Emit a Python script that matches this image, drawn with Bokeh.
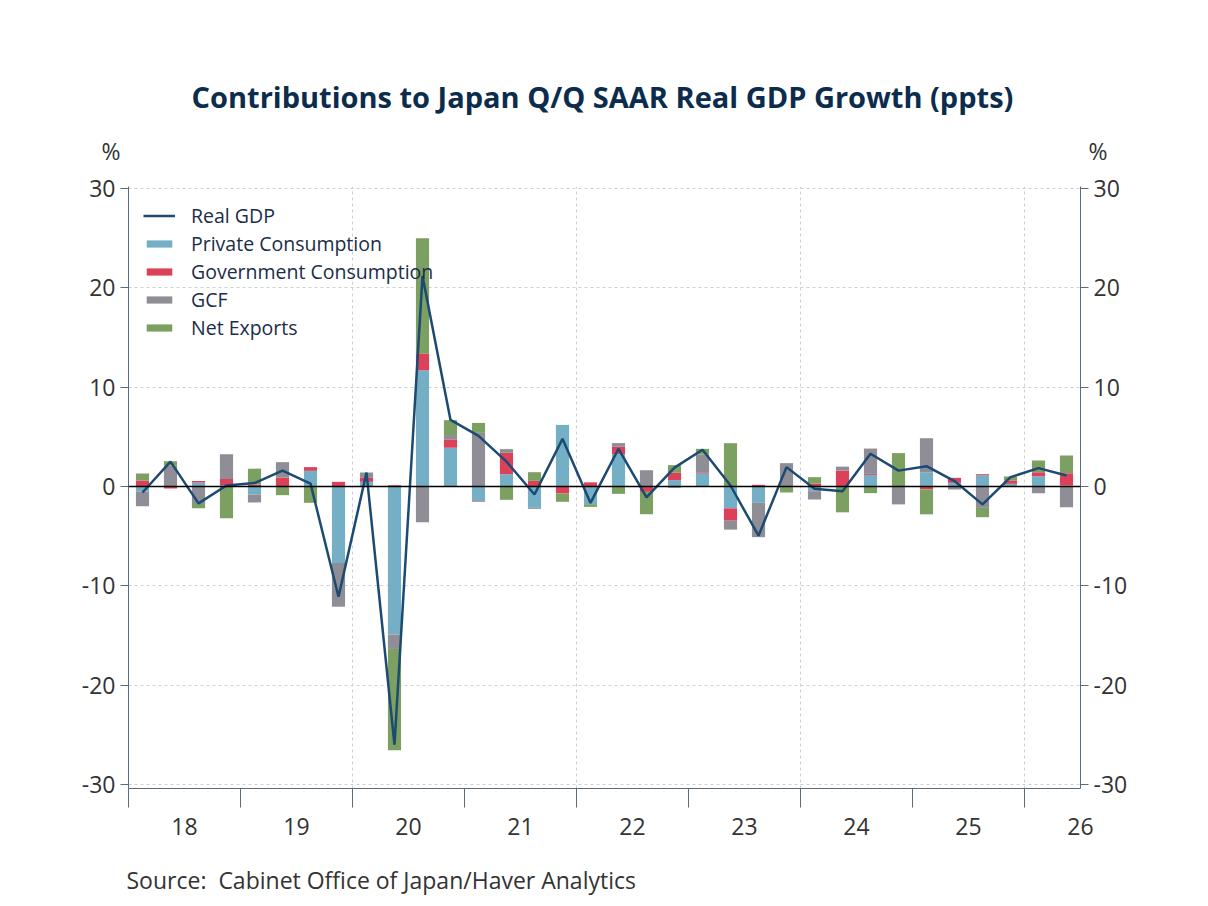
import numpy as np
from bokeh.plotting import figure
from bokeh.layouts import column
from bokeh.core.properties import value
from bokeh.models import (ColumnDataSource, Range1d, LinearAxis, FixedTicker,
                          Span, Legend, LegendItem, Title)
from bokeh.embed import file_html
from bokeh.resources import INLINE

# quarterly contributions, 2018Q1 onwards (ppts, Q/Q SAAR)
private_cons = [-0.5, 0.0, 0.4, 0.15, -0.8, 0.0, 1.58, -7.7, 0.47, -14.9,
                11.7, 3.9, -1.5, 1.24, -2.15, 6.2, -1.78, 3.26, 0.0, 0.64,
                1.3, -2.2, -1.64, 0.0, -0.47, 0.0, 1.17, 0.0, 1.44, 0.37,
                1.14, 0.27, 1.04, 0.1]
gov_cons = [0.6, -0.2, 0.15, 0.6, 0.2, 0.9, 0.37, 0.47, 0.4, 0.13,
            1.7, 0.84, -0.05, 2.15, 0.57, -0.7, 0.42, 0.74, -0.54, 0.74,
            0.07, -1.24, 0.17, 0.0, 0.3, 1.6, 0.1, 0.0, -0.3, 0.5,
            0.1, 0.34, 0.4, 1.24]
gcf = [-1.5, 2.1, -1.75, 2.5, -0.8, 1.55, 0.0, -4.4, 0.54, -1.45,
       -3.6, 0.44, 5.4, 0.37, -0.1, 0.0, 0.0, 0.37, 1.64, -0.13,
       1.85, -0.9, -3.46, 2.35, -0.84, 0.4, 2.55, -1.8, 3.42, -0.3,
       -2.15, 0.0, -0.67, -2.08]
net_exports = [0.7, 0.45, -0.45, -3.2, 1.6, -0.87, -1.64, 0.0, 0.0, -10.2,
               11.6, 1.5, 1.0, -1.34, 0.87, -0.84, -0.27, -0.74, -2.25, 0.77,
               0.57, 4.36, 0.0, -0.6, 0.64, -2.6, -0.67, 3.36, -2.5, 0.0,
               -0.94, 0.4, 1.17, 1.78]
real_gdp = [-0.6, 2.5, -1.7, 0.1, 0.35, 1.6, 0.3, -11.1, 1.4, -26.0,
            21.2, 6.7, 5.1, 2.5, -0.8, 4.8, -1.65, 3.8, -1.1, 1.9,
            3.7, 0.1, -4.95, 1.95, -0.23, -0.47, 3.3, 1.6, 2.05, 0.55,
            -1.8, 0.94, 1.85, 1.1]
year_labels = ["18", "19", "20", "21", "22", "23", "24", "25", "26"]

series = [("Private Consumption", private_cons, "#74afc5"),
          ("Government Consumption", gov_cons, "#dd4159"),
          ("GCF", gcf, "#8f8d95"),
          ("Net Exports", net_exports, "#7c9f62")]

n = len(real_gdp)
x = np.arange(n) + 0.5

AXIS = "#5b6b7a"
TXT = "#333333"
FONT = "Open Sans"
HEAD = 173
UNIT_Y = 164
FL, FW, FH = 128, 952, 602

# header strip: title, plus the "%" unit marks as lone tick labels
head = figure(frame_width=FW, frame_height=HEAD,
              min_border_left=FL, min_border_right=FL,
              min_border_top=0, min_border_bottom=0,
              x_range=Range1d(FL, FL + FW), y_range=Range1d(HEAD, 0),
              x_axis_location=None, y_axis_location="left",
              output_backend="svg", toolbar_location=None, tools="")
head.grid.visible = False
head.outline_line_color = None
head.text(x=[602], y=[96],
          text=["Contributions to Japan Q/Q SAAR Real GDP Growth (ppts)"],
          text_align="center", text_baseline="middle",
          text_font=value(FONT), text_font_style="bold",
          text_font_size="29px", text_color="#0c2c4d")


def style_unit(ax):
    ax.ticker = FixedTicker(ticks=[UNIT_Y])
    ax.major_label_overrides = {UNIT_Y: "%"}
    ax.axis_line_color = None
    ax.major_tick_line_color = None
    ax.minor_tick_line_color = None
    ax.major_tick_out = 0
    ax.major_label_standoff = 8
    ax.major_label_text_font = FONT
    ax.major_label_text_font_size = "23px"
    ax.major_label_text_color = TXT


style_unit(head.yaxis[0])
head_right = LinearAxis()
style_unit(head_right)
head.add_layout(head_right, "right")

p = figure(frame_width=FW, frame_height=FH,
           min_border_left=FL, min_border_right=FL,
           min_border_top=186 - HEAD, min_border_bottom=116,
           x_range=Range1d(0, n), y_range=Range1d(-30.4, 30.2),
           output_backend="svg", toolbar_location=None, tools="")
p.outline_line_color = None
p.background_fill_color = "white"

# stacked bars, positives and negatives stacked separately
pos = np.zeros(n)
neg = np.zeros(n)
bar_renderers = []
for name, vals, col in series:
    v = np.array(vals)
    bottom = np.where(v >= 0, pos, neg)
    top = bottom + v
    pos = np.where(v >= 0, top, pos)
    neg = np.where(v < 0, top, neg)
    src = ColumnDataSource(dict(x=x, top=top, bottom=bottom))
    r = p.vbar(x="x", top="top", bottom="bottom", width=0.47, source=src,
               fill_color=col, line_color=None)
    bar_renderers.append((name, r))

p.add_layout(Span(location=0, dimension="width", line_color="black",
                  line_width=1.5))

gdp_line = p.line(x, real_gdp, line_color="#1c4a72", line_width=2.5)

# grids
p.ygrid.ticker = FixedTicker(ticks=[-30, -20, -10, 0, 10, 20, 30])
p.ygrid.grid_line_color = "#cfcfcf"
p.ygrid.grid_line_dash = "3 3"
p.xgrid.ticker = FixedTicker(ticks=[8, 16, 24, 32])
p.xgrid.grid_line_color = "#cfcfcf"
p.xgrid.grid_line_dash = "3 3"

yticks = [-30, -20, -10, 0, 10, 20, 30]
overrides = {t: str(t) for t in yticks}


def style_y(ax):
    ax.ticker = FixedTicker(ticks=yticks)
    ax.major_label_overrides = overrides
    ax.axis_line_color = AXIS
    ax.major_tick_line_color = AXIS
    ax.major_tick_out = 8
    ax.major_tick_in = 0
    ax.minor_tick_line_color = None
    ax.major_label_standoff = 5
    ax.major_label_text_font = FONT
    ax.major_label_text_font_size = "23px"
    ax.major_label_text_color = TXT


style_y(p.yaxis[0])
right = LinearAxis()
style_y(right)
p.add_layout(right, "right")

xa = p.xaxis[0]
xa.ticker = FixedTicker(ticks=[2 + 4 * i for i in range(len(year_labels))],
                        minor_ticks=[4 * i for i in range(len(year_labels))])
xa.major_label_overrides = {2 + 4 * i: lab for i, lab in enumerate(year_labels)}
xa.axis_line_color = AXIS
xa.major_tick_line_color = None
xa.major_tick_out = 0
xa.major_tick_in = 0
xa.minor_tick_line_color = AXIS
xa.minor_tick_out = 19
xa.minor_tick_in = 0
xa.major_label_standoff = 10
xa.major_label_text_font = FONT
xa.major_label_text_font_size = "23px"
xa.major_label_text_color = TXT

# legend
items = [LegendItem(label="Real GDP", renderers=[gdp_line])]
items += [LegendItem(label=name, renderers=[r]) for name, r in bar_renderers]
leg = Legend(items=items, location="top_left", margin=10, padding=5,
             spacing=0, label_height=28, glyph_height=9, glyph_width=32,
             label_standoff=16, label_text_font=FONT,
             label_text_font_size="19.5px", label_text_color="#1b2d47",
             background_fill_alpha=0, border_line_alpha=0)
p.add_layout(leg, "center")

p.add_layout(Title(text="Source:\u00a0 Cabinet Office of Japan/Haver Analytics",
                   align="left", offset=-2, text_font=FONT,
                   text_font_style="normal", text_font_size="23px",
                   text_color=TXT, standoff=48), "below")

page = column(head, p, spacing=0)
open("out.html", "w").write(file_html(page, INLINE))
